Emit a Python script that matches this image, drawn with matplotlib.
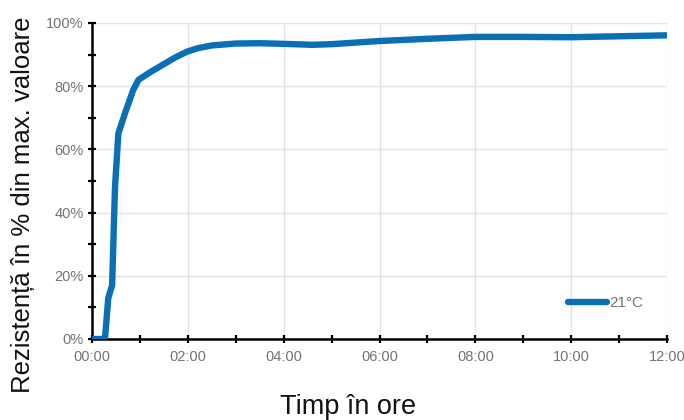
import matplotlib
matplotlib.use("Agg")
import matplotlib.pyplot as plt
from matplotlib.ticker import MultipleLocator, FuncFormatter

plt.rcParams['font.family'] = ['Liberation Sans', 'DejaVu Sans']

# Data (time in hours, strength in % of max value)
hours = [0.0, 0.27, 0.34, 0.42, 0.48, 0.55, 0.69, 0.86, 0.97, 1.2, 1.49, 1.75, 1.98, 2.2,
         2.5, 3.0, 3.5, 4.0, 4.6, 5.0, 5.5, 6.0, 7.0, 8.0, 9.0, 10.0, 11.0, 12.0]
strength = [0.0, 0.0, 13.0, 17.0, 48.0, 65.0, 71.5, 78.8, 82.0, 84.3, 86.9, 89.2, 90.9, 92.0,
            92.9, 93.5, 93.6, 93.4, 93.1, 93.3, 93.8, 94.3, 95.0, 95.6, 95.6, 95.5, 95.8, 96.1]
series_label = "21°C"
x_label = "Timp în ore"
y_label = "Rezistență în % din max. valoare"

fig = plt.figure(figsize=(6.84, 4.2), dpi=100)
ax = fig.add_axes([92/684, 1-339/420, (667-92)/684, (339-23)/420])

ax.plot(hours, strength, color='#0a6fb5', lw=4.6, solid_capstyle='round',
        solid_joinstyle='round', label=series_label, zorder=3)

ax.set_xlim(0, 12)
ax.set_ylim(0, 100)
ax.xaxis.set_major_locator(MultipleLocator(2))
ax.xaxis.set_minor_locator(MultipleLocator(1))
ax.yaxis.set_major_locator(MultipleLocator(20))
ax.yaxis.set_minor_locator(MultipleLocator(10))
ax.xaxis.set_major_formatter(FuncFormatter(lambda v, p: f"{int(round(v)):02d}:00"))
ax.yaxis.set_major_formatter(FuncFormatter(lambda v, p: f"{int(round(v))}%"))

ax.grid(True, which='major', color='#e3e3e3', lw=1.0, zorder=0)
for s in ['top', 'right']:
    ax.spines[s].set_visible(False)
for s in ['left', 'bottom']:
    ax.spines[s].set_linewidth(1.8)
    ax.spines[s].set_color('black')

ax.tick_params(which='both', direction='inout', length=6, width=1.6, color='black',
               labelsize=10.5, labelcolor='#747474')
ax.tick_params(axis='x', pad=5)
ax.tick_params(axis='y', pad=3)

leg = ax.legend(loc='center right', bbox_to_anchor=(0.97, 0.114), frameon=False,
                handlelength=2.6, handletextpad=0.15, fontsize=11, borderaxespad=0)
for t in leg.get_texts():
    t.set_color('#747474')

fig.text(23/684, 1-205/420, y_label, rotation=90, ha='center', va='center',
         fontsize=18.5, color='#111111')
fig.text(348/684, 1-413.5/420, x_label, ha='center', va='baseline',
         fontsize=19.5, color='#111111')

fig.savefig('out.png', dpi=100)
